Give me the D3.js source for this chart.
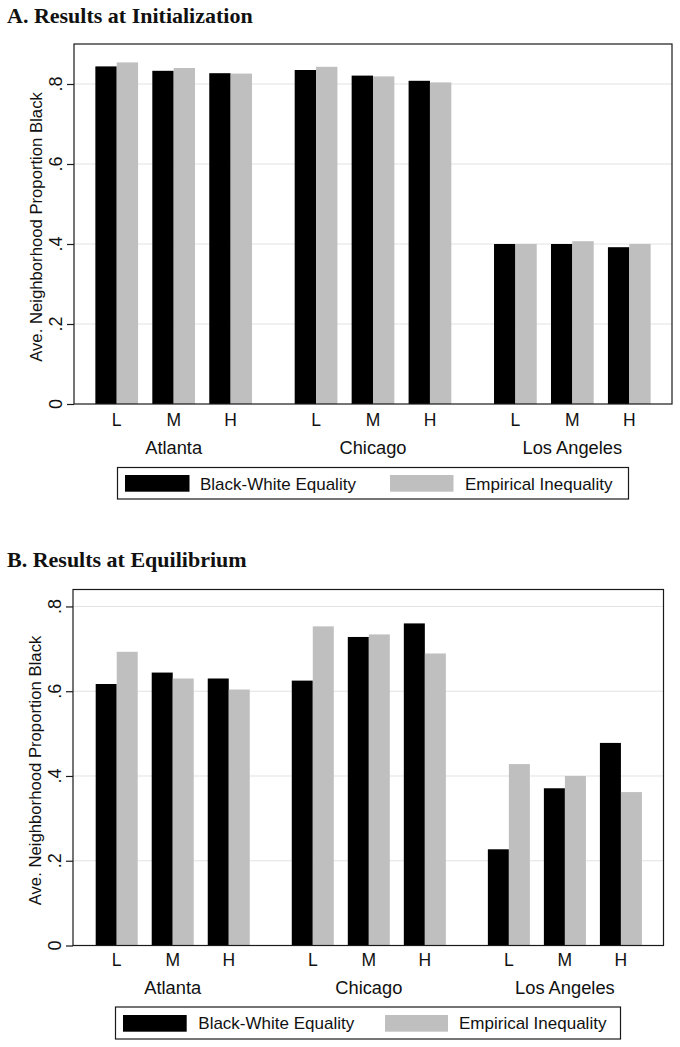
<!DOCTYPE html>
<html>
<head>
<meta charset="utf-8">
<script src="https://cdn.jsdelivr.net/npm/d3@7"></script>
<style>
  html, body { margin: 0; padding: 0; background: #fff; }
  svg { display: block; }
</style>
</head>
<body>
<div id="chart"></div>
<script>
// ---- data ----
const cities = ["Atlanta", "Chicago", "Los Angeles"];
const levels = ["L", "M", "H"];
const seriesNames = ["Black-White Equality", "Empirical Inequality"];
const seriesColors = ["#000000", "#bfbfbf"];

const initEquality   = [0.844, 0.833, 0.827, 0.835, 0.821, 0.808, 0.400, 0.400, 0.392];
const initInequality = [0.854, 0.840, 0.826, 0.843, 0.819, 0.804, 0.400, 0.407, 0.400];
const equilEquality   = [0.617, 0.644, 0.630, 0.625, 0.728, 0.760, 0.227, 0.371, 0.478];
const equilInequality = [0.693, 0.630, 0.604, 0.753, 0.734, 0.689, 0.428, 0.400, 0.362];

const yTickValues = [0, 0.2, 0.4, 0.6, 0.8];
const yTickLabels = ["0", ".2", ".4", ".6", ".8"];
const yTitle = "Ave. Neighborhood Proportion Black";
const panelTitles = ["A. Results at Initialization", "B. Results at Equilibrium"];

// ---- layout ----
const W = 680, H = 1047;
const svg = d3.select("#chart").append("svg").attr("width", W).attr("height", H);

const panels = [
  { title: panelTitles[0], titleY: 22.7, s1: initEquality, s2: initInequality,
    left: 74, right: 672, top: 44, bottom: 404, yMax: 0.9, xDom: [-0.75, 9.75],
    tickY: 426, cityY: 454,
    legend: { x0: 117.5, x1: 628.5, y0: 467.5, y1: 499, sw: [125, 189.5, 390, 453.5], tx: [200, 465], sy0: 475, sy1: 491.7, ty: 489.5 } },
  { title: panelTitles[1], titleY: 566.7, s1: equilEquality, s2: equilInequality,
    left: 73, right: 663.5, top: 589.5, bottom: 945.5, yMax: 0.84, xDom: [-0.78, 9.76],
    tickY: 965.5, cityY: 994,
    legend: { x0: 115.5, x1: 620.5, y0: 1007, y1: 1039, sw: [123, 186.7, 385, 448], tx: [198.3, 459], sy0: 1015, sy1: 1031.7, ty: 1029 } }
];

// slot index: groups of three with a 1.5-unit gap between cities
function slot(ci, li) { return ci * 3.5 + li; }

panels.forEach(p => {
  const g = svg.append("g");
  const x = d3.scaleLinear().domain(p.xDom).range([p.left, p.right]);
  const y = d3.scaleLinear().domain([0, p.yMax]).range([p.bottom, p.top]);
  const half = 0.375;

  // title
  g.append("text").attr("x", 7).attr("y", p.titleY)
    .attr("font-family", "'Liberation Serif', 'Times New Roman', serif")
    .attr("font-weight", "bold").attr("font-size", 22).attr("fill", "#111")
    .text(p.title);

  // gridlines
  g.selectAll("line.grid").data(yTickValues.filter(v => v > 0)).enter().append("line")
    .attr("x1", p.left).attr("x2", p.right)
    .attr("y1", d => y(d)).attr("y2", d => y(d))
    .attr("stroke", "#e2e2e2").attr("stroke-width", 1);

  // bars
  const data = [];
  cities.forEach((c, ci) => levels.forEach((l, li) => {
    const i = ci * 3 + li;
    data.push({ s: 0, pos: slot(ci, li), v: p.s1[i] });
    data.push({ s: 1, pos: slot(ci, li), v: p.s2[i] });
  }));
  g.selectAll("rect.bar").data(data).enter().append("rect")
    .attr("x", d => d.s === 0 ? x(d.pos - half) : x(d.pos))
    .attr("width", d => x(d.pos + half) - x(d.pos))
    .attr("y", d => y(d.v))
    .attr("height", d => y(0) - y(d.v))
    .attr("fill", d => seriesColors[d.s]);

  // frame
  g.append("rect").attr("x", p.left).attr("y", p.top)
    .attr("width", p.right - p.left).attr("height", p.bottom - p.top)
    .attr("fill", "none").attr("stroke", "#1a1a1a").attr("stroke-width", 1.2);

  // y axis ticks
  const yAxis = d3.axisLeft(y).tickValues(yTickValues).tickSize(7).tickFormat("");
  const ax = g.append("g").attr("transform", `translate(${p.left},0)`).call(yAxis);
  ax.select(".domain").remove();
  ax.selectAll(".tick line").attr("stroke", "#1a1a1a").attr("stroke-width", 1.2);

  g.selectAll("text.ytick").data(yTickValues).enter().append("text")
    .attr("transform", (d, i) => `translate(${p.left - 12},${y(d)}) rotate(-90)`)
    .attr("text-anchor", "middle")
    .attr("font-family", "'Liberation Sans', Arial, sans-serif").attr("font-size", 18)
    .attr("fill", "#111")
    .text((d, i) => yTickLabels[i]);

  // y title
  g.append("text")
    .attr("transform", `translate(${p.left - 32},${(p.top + p.bottom) / 2 + 3}) rotate(-90)`)
    .attr("text-anchor", "middle")
    .attr("font-family", "'Liberation Sans', Arial, sans-serif").attr("font-size", 16.7)
    .attr("fill", "#111")
    .text(yTitle);

  // x level labels
  const lab = [];
  cities.forEach((c, ci) => levels.forEach((l, li) => lab.push({ l, pos: slot(ci, li) })));
  g.selectAll("text.lvl").data(lab).enter().append("text")
    .attr("x", d => x(d.pos)).attr("y", p.tickY)
    .attr("text-anchor", "middle")
    .attr("font-family", "'Liberation Sans', Arial, sans-serif").attr("font-size", 17.5)
    .attr("fill", "#111")
    .text(d => d.l);

  // city labels
  g.selectAll("text.city").data(cities).enter().append("text")
    .attr("x", (d, ci) => x(slot(ci, 1))).attr("y", p.cityY)
    .attr("text-anchor", "middle")
    .attr("font-family", "'Liberation Sans', Arial, sans-serif").attr("font-size", 18.3)
    .attr("fill", "#111")
    .text(d => d);

  // legend
  const L = p.legend;
  g.append("rect").attr("x", L.x0).attr("y", L.y0)
    .attr("width", L.x1 - L.x0).attr("height", L.y1 - L.y0)
    .attr("fill", "#fff").attr("stroke", "#1a1a1a").attr("stroke-width", 1.2);
  seriesNames.forEach((s, i) => {
    g.append("rect").attr("x", L.sw[i * 2]).attr("y", L.sy0)
      .attr("width", L.sw[i * 2 + 1] - L.sw[i * 2]).attr("height", L.sy1 - L.sy0)
      .attr("fill", seriesColors[i]);
    g.append("text").attr("x", L.tx[i]).attr("y", L.ty)
      .attr("font-family", "'Liberation Sans', Arial, sans-serif").attr("font-size", 17)
      .attr("fill", "#111")
      .text(s);
  });
});
</script>
</body>
</html>
